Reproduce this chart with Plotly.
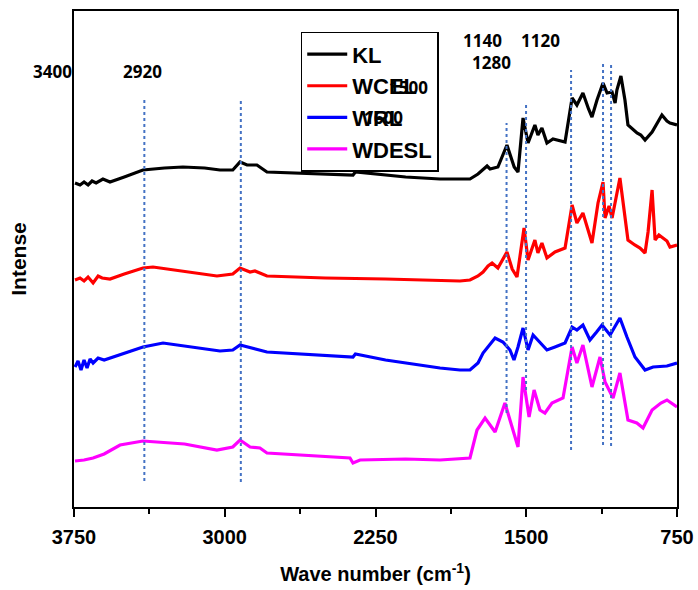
import plotly.graph_objects as go

# ---- data (wavenumber cm-1, offset intensity a.u.) ----
kl_x = [3745, 3720, 3700, 3680, 3660, 3640, 3606, 3571, 3500, 3407, 3300, 3208, 3100, 3024, 2960, 2924,
        2889, 2840, 2790, 2600, 2362, 2350, 2100, 1929, 1780, 1740, 1715, 1695, 1680, 1641, 1596, 1560,
        1541, 1516, 1491, 1457, 1442, 1422, 1397, 1367, 1307, 1272, 1248, 1218, 1190, 1173, 1148, 1118,
        1098, 1073, 1058, 1049, 1029, 1009, 994, 970, 949, 930, 909, 874, 825, 800, 785, 750]
kl_y = [324, 322, 325, 322, 326, 324, 328, 325, 330, 337, 339, 340, 339, 337, 337, 345,
        342, 342, 335, 334, 332, 335, 330, 328, 328, 333, 337, 341, 338, 340, 362, 340,
        335, 389, 364, 382, 372, 379, 364, 368, 365, 409, 402, 414, 398, 390, 407, 424,
        414, 415, 404, 417, 431, 407, 382, 378, 374, 372, 367, 375, 392, 386, 384, 382]

wcel_x = [3745, 3720, 3700, 3680, 3655, 3630, 3610, 3571, 3500, 3407, 3357, 3250, 3100, 3039, 2960, 2924,
          2874, 2850, 2790, 2500, 2200, 1830, 1780, 1740, 1715, 1690, 1670, 1641, 1596, 1570, 1546, 1511,
          1491, 1457, 1442, 1422, 1397, 1357, 1307, 1272, 1248, 1218, 1173, 1143, 1118, 1108, 1088, 1073,
          1034, 994, 960, 934, 909, 894, 874, 859, 840, 825, 800, 785, 750]
wcel_y = [227, 229, 226, 230, 224, 231, 229, 228, 233, 239, 240, 237, 233, 231, 233, 239,
          235, 236, 231, 229, 228, 226, 227, 231, 235, 241, 244, 239, 255, 238, 230, 279,
          247, 267, 254, 264, 249, 255, 259, 302, 284, 294, 264, 304, 325, 289, 301, 289,
          329, 267, 262, 259, 254, 275, 317, 267, 272, 270, 266, 260, 262]

wrl_x = [3745, 3730, 3715, 3700, 3685, 3670, 3655, 3630, 3600, 3571, 3500, 3407, 3307, 3200, 3024,
         2960, 2924, 2790, 2600, 2362, 2350, 2200, 1929, 1830, 1780, 1740, 1715, 1690, 1655, 1616, 1581,
         1561, 1541, 1516, 1491, 1466, 1432, 1397, 1357, 1307, 1272, 1248, 1218, 1183, 1150, 1123, 1083,
         1034, 999, 959, 909, 869, 800, 750]
wrl_y = [140, 146, 137, 147, 139, 148, 144, 149, 147, 149, 154, 160, 164, 161, 156,
         157, 162, 155, 153, 150, 153, 147, 139, 137, 137, 144, 154, 160, 169, 165, 157,
         147, 160, 179, 157, 172, 164, 157, 160, 164, 180, 177, 182, 167, 175, 182, 172,
         189, 170, 150, 137, 140, 141, 144]

wdesl_x = [3745, 3700, 3655, 3600, 3521, 3407, 3200, 3039, 2960, 2924, 2874, 2825, 2790, 2600, 2377,
           2362, 2327, 2100, 1929, 1780, 1745, 1705, 1680, 1655, 1606, 1541, 1516, 1486, 1461, 1432, 1407,
           1372, 1317, 1272, 1248, 1218, 1173, 1133, 1108, 1068, 1034, 994, 950, 919, 874, 830, 800, 750]
wdesl_y = [46, 47, 49, 53, 62, 66, 63, 57, 60, 67, 60, 59, 54, 52, 49,
           44, 47, 48, 47, 49, 77, 89, 82, 75, 104, 60, 130, 90, 117, 97, 94,
           104, 109, 160, 144, 162, 120, 150, 125, 109, 134, 87, 84, 79, 97, 104, 107, 100]

series_names = ["KL", "WCEL", "WRL", "WDESL"]
series_x = [kl_x, wcel_x, wrl_x, wdesl_x]
series_y = [kl_y, wcel_y, wrl_y, wdesl_y]
series_colors = ["#000000", "#ff0000", "#0000ff", "#ff00ff"]

# marker lines: position, bottom, top
vline_x = [3400, 2920, 1598, 1501, 1277, 1118, 1078]
vline_lo = [26, 25, 94, 117, 57, 62, 61]
vline_hi = [409, 406, 384, 404, 437, 443, 443]

# peak labels (paper coordinates, as placed in the picture)
label_text = ["3400", "2920", "1140", "1120", "1280", "1500", "1600"]
label_px = [-0.036, 0.113, 0.677, 0.773, 0.693, 0.554, 0.514]
label_py = [0.879, 0.879, 0.940, 0.940, 0.897, 0.845, 0.786]

fig = go.Figure()
for name, xs, ys, col in zip(series_names, series_x, series_y, series_colors):
    fig.add_trace(go.Scatter(x=xs, y=ys, mode="lines", name="<b>%s</b>" % name,
                             line=dict(color=col, width=3.2)))

for xv, lo, hi in zip(vline_x, vline_lo, vline_hi):
    fig.add_shape(type="line", xref="x", yref="y", x0=xv, x1=xv, y0=lo, y1=hi,
                  line=dict(color="#4472C4", width=2, dash="dot"), layer="above")

for t, xv, yv in zip(label_text, label_px, label_py):
    fig.add_annotation(x=xv, y=yv, text="<b>%s</b>" % t, showarrow=False,
                       xref="paper", yref="paper", xanchor="center", yanchor="middle",
                       font=dict(family="Open Sans", size=17, color="black"))

fig.update_layout(
    width=698, height=590,
    margin=dict(l=74, r=21, t=11, b=83),
    paper_bgcolor="white", plot_bgcolor="white",
    showlegend=True,
    legend=dict(x=0.376, y=0.958, xanchor="left", yanchor="top",
                bgcolor="rgba(0,0,0,0)", bordercolor="black", borderwidth=1.5,
                font=dict(family="Liberation Sans, Arial", size=22, color="black"),
                tracegroupgap=0, itemwidth=40),
    font=dict(family="Liberation Sans, Arial", color="black"),
)
fig.update_xaxes(range=[3750, 750], tickmode="array", tickvals=[3750, 3000, 2250, 1500, 750],
                 ticktext=["<b>3750</b>", "<b>3000</b>", "<b>2250</b>", "<b>1500</b>", "<b>750</b>"],
                 ticks="outside", ticklen=8, tickwidth=1.5, tickcolor="black",
                 ticklabelstandoff=3,
                 minor=dict(tickmode="array", tickvals=[3375, 2625, 1875, 1125], ticks="outside",
                            ticklen=5, tickwidth=1.5, tickcolor="black"),
                 tickfont=dict(family="Liberation Sans, Arial", size=20, color="black"),
                 showline=True, linecolor="black", linewidth=2, mirror=True,
                 showgrid=False, zeroline=False, automargin=False,
                 title=dict(text="<b>Wave number (cm<sup>-1</sup>)</b>",
                            font=dict(family="Liberation Sans, Arial", size=20, color="black"),
                            standoff=20))
fig.update_yaxes(range=[0, 496], showticklabels=False, ticks="",
                 showline=True, linecolor="black", linewidth=2, mirror=True,
                 showgrid=False, zeroline=False, automargin=False,
                 title=dict(text="<b>Intense</b>",
                            font=dict(family="Liberation Sans, Arial", size=21, color="black"),
                            standoff=40))

fig.write_html("out.html")
